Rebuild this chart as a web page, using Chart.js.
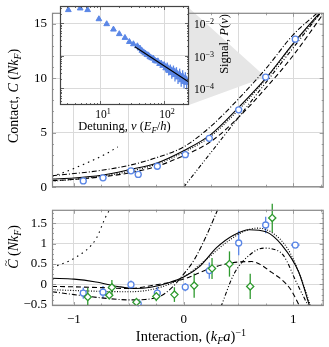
<!DOCTYPE html>
<html>
<head>
<meta charset="utf-8">
<script src="https://cdn.jsdelivr.net/npm/chart.js@4.4.1/dist/chart.umd.min.js"></script>
<style>
  html, body { margin: 0; padding: 0; background: #fff; }
  #wrap { position: relative; width: 329px; height: 347px; overflow: hidden; }
  canvas { position: absolute; left: 0; }
  #top { top: 0; z-index: 1; }
  #bot { top: 197px; z-index: 1; }
  #inset { top: 0; z-index: 2; }
</style>
</head>
<body>
<div id="wrap">
  <canvas id="top" width="329" height="200"></canvas>
  <canvas id="bot" width="329" height="150"></canvas>
  <canvas id="inset" width="329" height="140"></canvas>
</div>
<script>
// ---- ticks ----
const xGridVals = [-1, -0.5, 0, 0.5, 1];
const xLabelVals = [-1, 0, 1];
const topTickVals = [0, 5, 10, 15];
const botTickVals = [-0.5, 0, 0.5, 1, 1.5];
const insetXTicks = [10, 100];
const insetYTicks = [1e-2, 1e-3, 1e-4];

// ---- measured points ----
const blueX     = [-0.915, -0.735, -0.48, -0.414, -0.24, 0.015, 0.234, 0.502, 0.748, 1.018];
const blueC     = [0.58, 0.86, 1.5, 1.17, 1.92, 2.98, 4.48, 7.1, 10.1, 13.58];
const blueXerr  = [0.03, 0.03, 0.03, 0.03, 0.03, 0.03, 0.03, 0.03, 0.03, 0.03];
const blueCt    = [-0.214, -0.19, -0.007, -0.47, -0.214, -0.066, 0.34, 1.015, 1.457, 0.965];
const blueCtErr = [0.14, 0.15, 0.1, 0.07, 0.15, 0.1, 0.2, 0.3, 0.2, 0];

const greenX     = [-0.874, -0.678, -0.654, -0.43, -0.249, -0.084, 0.096, 0.259, 0.418, 0.607, 0.808];
const greenCt    = [-0.309, -0.265, -0.073, -0.435, -0.294, -0.25, -0.03, 0.39, 0.5, -0.05, 1.63];
const greenCtErr = [0.22, 0.1, 0.18, 0.06, 0.12, 0.18, 0.3, 0.26, 0.31, 0.31, 0.35];

// ---- theory curves, top panel ----
const solidTopX   = [-1.2, -1.0, -0.75, -0.5, -0.25, 0, 0.25, 0.5, 0.75, 1.0, 1.24];
const solidTopY   = [0.75, 0.85, 1.1, 1.6, 2.2, 3.35, 4.85, 7.3, 10.0, 13.2, 16.0];
const dashedTopX  = [-1.2, -1.0, -0.75, -0.5, -0.25, 0, 0.25, 0.5, 0.75, 1.0, 1.28];
const dashedTopY  = [0.6, 0.72, 0.95, 1.3, 1.9, 2.9, 4.2, 6.4, 9.1, 12.1, 16.0];
const dottedTopX  = [-1.2, -1.0, -0.75, -0.5, -0.25, 0, 0.25, 0.5, 0.75, 1.0, 1.25];
const dottedTopY  = [0.55, 0.72, 1.0, 1.45, 2.1, 3.2, 4.7, 7.1, 9.9, 13.1, 16.0];
const dashDotTopX = [-1.2, -1.0, -0.75, -0.5, -0.25, 0, 0.25, 0.5, 0.76, 1.0, 1.22];
const dashDotTopY = [1.05, 1.25, 1.55, 2.0, 2.7, 3.7, 5.6, 8.1, 11.0, 14.0, 16.0];
const becTopX     = [0, 0.25, 0.5, 0.75, 1.0, 1.25];
const becTopY     = [0, 3.2, 6.4, 9.6, 12.8, 16.0];
const steepTopX   = [-1.2, -1.1, -1.0, -0.9, -0.8, -0.7, -0.6];
const steepTopY   = [1.0, 1.33, 1.72, 2.15, 2.6, 3.1, 3.7];

// ---- theory curves, bottom panel ----
const solidBotX   = [-1.2, -1.0, -0.8, -0.6, -0.45, -0.3, -0.15, 0, 0.15, 0.3, 0.45, 0.6, 0.75, 0.9, 1.05, 1.15];
const solidBotY   = [0.15, 0.13, 0.06, -0.05, -0.1, -0.07, 0.03, 0.18, 0.45, 0.9, 1.2, 1.34, 1.29, 0.95, 0.3, -0.55];
const dashedBotX  = [-1.2, -1.0, -0.75, -0.5, -0.25, 0, 0.25, 0.5, 0.62, 0.8, 0.97, 1.06];
const dashedBotY  = [-0.05, -0.06, -0.08, -0.1, -0.01, 0.13, 0.4, 0.55, 0.56, 0.3, -0.1, -0.55];
const dottedBotX  = [-1.2, -1.0, -0.75, -0.5, -0.25, 0, 0.2, 0.4, 0.55, 0.67, 0.8, 0.95, 1.05, 1.16];
const dottedBotY  = [-0.13, -0.15, -0.17, -0.18, -0.1, 0.18, 0.6, 1.05, 1.3, 1.38, 1.28, 0.87, 0.3, -0.55];
const dashDotBotX = [-1.2, -1.0, -0.75, -0.5, -0.35, -0.2, -0.1, 0, 0.1, 0.2, 0.31];
const dashDotBotY = [-0.18, -0.25, -0.33, -0.38, -0.37, -0.27, -0.06, 0.25, 0.62, 1.15, 1.83];
const becBotX     = [0.34, 0.46, 0.61, 0.73, 0.81, 0.91, 1.03, 1.14];
const becBotY     = [-0.55, 0.26, 0.74, 0.89, 0.87, 0.71, 0.04, -0.55];
const steepBotX   = [-1.2, -0.98, -0.8, -0.71, -0.67];
const steepBotY   = [0.41, 0.67, 1.11, 1.66, 1.85];

// ---- inset: rf signal vs detuning ----
const insetNu  = [3.2, 4.9, 6.4, 9.6, 12.7, 16.2, 20, 24.5, 28.7, 33.2, 38.3, 42, 45, 48, 51, 54, 57, 60, 64, 68, 72, 76, 80, 85, 90, 95,
                  100, 106, 112, 118, 125, 132, 140, 148, 156, 165, 175, 185, 195, 205, 215, 225];
const insetP   = [0.0257, 0.0289, 0.0257, 0.0135, 0.0095, 0.0065, 0.0047, 0.0036, 0.0027, 0.0023, 0.0020, 0.0017, 1.45e-3, 1.3e-3, 1.2e-3,
                  1.08e-3, 1.05e-3, 9.2e-4, 8.6e-4, 8.3e-4, 7.2e-4, 6.8e-4, 6.9e-4, 5.7e-4, 5.9e-4, 5.0e-4,
                  5.3e-4, 4.2e-4, 4.6e-4, 3.5e-4, 4.0e-4, 3.0e-4, 3.6e-4, 2.6e-4, 3.1e-4, 2.2e-4, 2.7e-4, 1.8e-4, 2.4e-4, 1.6e-4, 2.1e-4, 1.5e-4];
const insetErr = [0, 0, 0, 0, 0, 0, 0, 0, 0, 0, 0, 0, 0, 0, 0, 0, 0, 0, 0, 0, 0, 0, 0, 0, 0, 0,
                  0.2, 0.3, 0.35, 0.4, 0.35, 0.5, 0.4, 0.6, 0.45, 0.6, 0.5, 0.6, 0.5, 0.6, 0.5, 0.6];
const fitNu = [35, 240];
const fitP  = [1.9e-3, 1.6e-4];

const BLUE = '#5a86e6';
const GREEN = '#2f9a2f';
const GRID = '#dadada';
const SERIF = '"Liberation Serif", "DejaVu Serif", serif';

const pts = (xs, ys) => xs.map((x, i) => ({ x: x, y: ys[i] }));

function curve(xs, ys, dash) {
    return {
        data: pts(xs, ys), showLine: true, pointRadius: 0, borderColor: '#000',
        borderWidth: 1.1, borderDash: dash, cubicInterpolationMode: 'monotone', fill: false
    };
}

const DASH = { solid: [], dashed: [5, 3], dotted: [1, 1.6], dashDot: [5, 2, 1, 2], dashDotDot: [4, 2, 1, 2, 1, 2], sparse: [1.5, 4] };

// text with italic / sub / sup runs
function fontFor(s, size) {
    const sz = (s.sub || s.sup) ? size * 0.7 : size;
    return (s.i ? 'italic ' : '') + sz + 'px ' + SERIF;
}
function drawRich(ctx, segs, x, y, size, rot, align) {
    ctx.save();
    ctx.translate(x, y);
    if (rot) ctx.rotate(rot);
    let w = 0;
    segs.forEach(s => { ctx.font = fontFor(s, size); w += ctx.measureText(s.t).width; });
    let cx = align === 'left' ? 0 : -w / 2;
    ctx.textAlign = 'left';
    ctx.textBaseline = 'alphabetic';
    ctx.fillStyle = '#000';
    segs.forEach(s => {
        ctx.font = fontFor(s, size);
        const dy = s.sub ? size * 0.22 : (s.sup ? -size * 0.38 : 0);
        const tw = ctx.measureText(s.t).width;
        ctx.fillText(s.t, cx, dy + size * 0.35);
        if (s.tilde) {
            ctx.font = (size * 0.8) + 'px ' + SERIF;
            ctx.textAlign = 'center';
            ctx.fillText('~', cx + tw / 2 + 1, size * 0.35 - size * 0.62);
            ctx.textAlign = 'left';
        }
        cx += tw;
    });
    ctx.restore();
}

// frame with inward ticks
function framePlugin(xTicks, yTicks, color) {
    return {
        id: 'frame',
        afterDatasetsDraw(chart) {
            const { ctx, chartArea: a, scales } = chart;
            ctx.save();
            ctx.strokeStyle = color;
            ctx.lineWidth = 0.8;
            ctx.beginPath();
            xTicks.forEach(([v, len]) => {
                const p = Math.round(scales.x.getPixelForValue(v)) + 0.5;
                ctx.moveTo(p, a.bottom); ctx.lineTo(p, a.bottom - len);
                ctx.moveTo(p, a.top); ctx.lineTo(p, a.top + len);
            });
            yTicks.forEach(([v, len]) => {
                const p = Math.round(scales.y.getPixelForValue(v)) + 0.5;
                ctx.moveTo(a.left, p); ctx.lineTo(a.left + len, p);
                ctx.moveTo(a.right, p); ctx.lineTo(a.right - len, p);
            });
            ctx.stroke();
            ctx.lineWidth = 1.2;
            ctx.strokeRect(a.left + 0.5, a.top + 0.5, a.right - a.left - 1, a.bottom - a.top - 1);
            ctx.restore();
        }
    };
}

// error bars from the arrays, through the chart scales
function errPlugin(sets) {
    return {
        id: 'errbars',
        beforeDatasetsDraw(chart) {
            const { ctx, scales } = chart;
            ctx.save();
            ctx.lineWidth = 1.3;
            sets.forEach(s => {
                ctx.strokeStyle = s.color;
                s.x.forEach((xv, i) => {
                    const px = scales.x.getPixelForValue(xv);
                    const py = scales.y.getPixelForValue(s.y[i]);
                    ctx.beginPath();
                    if (s.yerr && s.yerr[i]) {
                        const lo = s.log ? s.y[i] / (1 + s.yerr[i]) : s.y[i] - s.yerr[i];
                        const hi = s.log ? s.y[i] * (1 + s.yerr[i]) : s.y[i] + s.yerr[i];
                        ctx.moveTo(px, scales.y.getPixelForValue(lo));
                        ctx.lineTo(px, scales.y.getPixelForValue(hi));
                    }
                    if (s.xerr && s.xerr[i]) {
                        ctx.moveTo(scales.x.getPixelForValue(xv - s.xerr[i]), py);
                        ctx.lineTo(scales.x.getPixelForValue(xv + s.xerr[i]), py);
                    }
                    ctx.stroke();
                });
            });
            ctx.restore();
        }
    };
}

const minorTicks = (from, to, step, majorEvery, lMin, lMaj) => {
    const out = [];
    const n = Math.round((to - from) / step);
    for (let k = 0; k <= n; k++) {
        const v = from + k * step;
        const isMaj = Math.abs(v / majorEvery - Math.round(v / majorEvery)) < 1e-6;
        out.push([v, isMaj ? lMaj : lMin]);
    }
    return out;
};

const xFrameTicks = minorTicks(-1, 1.25, 0.25, 1, 2.5, 4);
const tickFont = { family: SERIF, size: 13 };
const fmt = v => (v < 0 ? '\u2212' : '') + Math.abs(v);

// ---- inset chart (created first, main chart reads its box) ----
const insetChart = new Chart(document.getElementById('inset'), {
    type: 'scatter',
    data: {
        datasets: [
            { data: pts(fitNu, fitP), showLine: true, pointRadius: 0, borderColor: '#000', borderWidth: 1.1 },
            { data: pts(insetNu, insetP), pointStyle: 'triangle', pointRadius: 3.3, backgroundColor: BLUE, borderColor: BLUE, borderWidth: 1 }
        ]
    },
    options: {
        responsive: false, animation: false, events: [],
        layout: { padding: { left: 60, top: 6, right: 140, bottom: 35 } },
        plugins: { legend: { display: false }, tooltip: { enabled: false } },
        scales: {
            x: {
                type: 'logarithmic', min: 2.37, max: 245,
                afterBuildTicks: s => { s.ticks = insetXTicks.map(v => ({ value: v })); },
                ticks: { display: false }, grid: { color: GRID, drawTicks: false }, border: { display: false },
                afterFit: s => { s.height = 0; }
            },
            y: {
                type: 'logarithmic', min: 3.1e-5, max: 0.034,
                afterBuildTicks: s => { s.ticks = insetYTicks.map(v => ({ value: v })); },
                ticks: { display: false }, grid: { color: GRID, drawTicks: false }, border: { display: false },
                afterFit: s => { s.width = 0; }
            }
        }
    },
    plugins: [
        {
            id: 'insetBg',
            beforeDraw(chart) {
                const { ctx, chartArea: a } = chart;
                ctx.save();
                ctx.fillStyle = '#fff';
                ctx.fillRect(a.left, a.top, a.right - a.left, a.bottom - a.top);
                ctx.restore();
            },
            afterDraw(chart) {
                const { ctx, chartArea: a, scales } = chart;
                insetXTicks.forEach(v => {
                    drawRich(ctx, [{ t: '10' }, { t: String(Math.round(Math.log10(v))), sup: true }],
                        scales.x.getPixelForValue(v) + 3, a.bottom + 9, 11.5);
                });
                insetYTicks.forEach(v => {
                    drawRich(ctx, [{ t: '10' }, { t: fmt(Math.round(Math.log10(v))), sup: true }],
                        a.right + 5, scales.y.getPixelForValue(v) + 1, 11.5, 0, 'left');
                });
                drawRich(ctx, [{ t: 'Detuning, ' }, { t: '\u03bd', i: true }, { t: ' (' }, { t: 'E', i: true },
                    { t: 'F', i: true, sub: true }, { t: '/' }, { t: 'h', i: true }, { t: ')' }],
                    (a.left + a.right) / 2, a.bottom + 21, 12.5);
                drawRich(ctx, [{ t: 'Signal, ' }, { t: 'P', i: true }, { t: '(' }, { t: '\u03bd', i: true }, { t: ')' }],
                    a.right + 35, 44, 12.5, -Math.PI / 2);
            }
        },
        errPlugin([{ x: insetNu, y: insetP, yerr: insetErr, color: BLUE, log: true }]),
        (function () {
            const xs = [], ys = [];
            [1, 10, 100].forEach(d => { for (let m = 2; m <= 9; m++) xs.push([m * d, 2]); });
            [1e-5, 1e-4, 1e-3, 1e-2].forEach(d => { for (let m = 2; m <= 9; m++) ys.push([m * d, 2]); });
            insetXTicks.forEach(v => xs.push([v, 4]));
            insetYTicks.forEach(v => ys.push([v, 4]));
            return framePlugin(xs.filter(t => t[0] > 2.37 && t[0] < 245), ys.filter(t => t[0] > 3.1e-5 && t[0] < 0.034), '#444');
        })()
    ]
});

// ---- top panel: contact ----
new Chart(document.getElementById('top'), {
    type: 'scatter',
    data: {
        datasets: [
            { data: pts(blueX, blueC), pointStyle: 'circle', pointRadius: 3, borderColor: BLUE, backgroundColor: '#fff', borderWidth: 1.3 },
            curve(solidTopX, solidTopY, DASH.solid),
            curve(dashedTopX, dashedTopY, DASH.dashed),
            curve(dottedTopX, dottedTopY, DASH.dotted),
            curve(dashDotTopX, dashDotTopY, DASH.dashDot),
            curve(becTopX, becTopY, DASH.dashDotDot),
            curve(steepTopX, steepTopY, DASH.sparse)
        ]
    },
    options: {
        responsive: false, animation: false, events: [],
        layout: { padding: { top: 1, right: 2, left: 0, bottom: 0 } },
        plugins: { legend: { display: false }, tooltip: { enabled: false } },
        scales: {
            x: {
                type: 'linear', min: -1.2, max: 1.277,
                afterBuildTicks: s => { s.ticks = xGridVals.map(v => ({ value: v })); },
                ticks: { display: false }, grid: { color: GRID, drawTicks: false }, border: { display: false },
                afterFit: s => { s.height = 7; }
            },
            y: {
                min: 0, max: 16,
                afterBuildTicks: s => { s.ticks = topTickVals.map(v => ({ value: v })); },
                ticks: { font: tickFont, color: '#000', padding: 5, callback: v => fmt(v) },
                grid: { color: GRID, drawTicks: false }, border: { display: false },
                afterFit: s => { s.width = 52; }
            }
        }
    },
    plugins: [
        {
            id: 'wedge',
            beforeDatasetsDraw(chart) {
                const { ctx, scales } = chart;
                const ia = insetChart.chartArea;
                const ax = scales.x.getPixelForValue(blueX[8]);
                const ay = scales.y.getPixelForValue(blueC[8]);
                ctx.save();
                ctx.fillStyle = '#e6e6e6';
                ctx.beginPath();
                ctx.moveTo(ia.right, ia.top + 2);
                ctx.lineTo(ax, ay);
                ctx.lineTo(ia.right, ia.bottom);
                ctx.closePath();
                ctx.fill();
                ctx.restore();
            },
            afterDraw(chart) {
                drawRich(chart.ctx, [{ t: 'Contact, ' }, { t: 'C', i: true }, { t: ' (' }, { t: 'Nk', i: true },
                    { t: 'F', i: true, sub: true }, { t: ')' }], 13, 96, 14, -Math.PI / 2);
            }
        },
        errPlugin([{ x: blueX, y: blueC, xerr: blueXerr, color: BLUE }]),
        framePlugin(xFrameTicks, minorTicks(0, 16, 1, 5, 2, 4), '#888')
    ]
});

// ---- bottom panel: residual contact ----
new Chart(document.getElementById('bot'), {
    type: 'scatter',
    data: {
        datasets: [
            { data: pts(greenX, greenCt), pointStyle: 'rectRot', pointRadius: 3.6, borderColor: GREEN, backgroundColor: '#fff', borderWidth: 1.3 },
            { data: pts(blueX, blueCt), pointStyle: 'circle', pointRadius: 3, borderColor: BLUE, backgroundColor: '#fff', borderWidth: 1.3 },
            curve(solidBotX, solidBotY, DASH.solid),
            curve(dashedBotX, dashedBotY, DASH.dashed),
            curve(dottedBotX, dottedBotY, DASH.dotted),
            curve(dashDotBotX, dashDotBotY, DASH.dashDot),
            curve(becBotX, becBotY, DASH.dashDotDot),
            curve(steepBotX, steepBotY, DASH.sparse)
        ]
    },
    options: {
        responsive: false, animation: false, events: [],
        layout: { padding: { top: 2, right: 2, left: 0, bottom: 0 } },
        plugins: { legend: { display: false }, tooltip: { enabled: false } },
        scales: {
            x: {
                type: 'linear', min: -1.2, max: 1.277,
                afterBuildTicks: s => { s.ticks = xGridVals.map(v => ({ value: v })); },
                ticks: { font: tickFont, color: '#000', padding: 6, maxRotation: 0, autoSkip: false,
                         callback: v => xLabelVals.includes(v) ? fmt(v) : '' },
                grid: { color: GRID, drawTicks: false }, border: { display: false },
                afterFit: s => { s.height = 41; }
            },
            y: {
                min: -0.53, max: 1.83,
                afterBuildTicks: s => { s.ticks = botTickVals.map(v => ({ value: v })); },
                ticks: { font: tickFont, color: '#000', padding: 5, callback: v => fmt(v) },
                grid: { color: GRID, drawTicks: false }, border: { display: false },
                afterFit: s => { s.width = 52; }
            }
        }
    },
    plugins: [
        {
            id: 'titles',
            afterDraw(chart) {
                const ctx = chart.ctx;
                drawRich(ctx, [{ t: 'C', i: true, tilde: true }, { t: ' (' }, { t: 'Nk', i: true },
                    { t: 'F', i: true, sub: true }, { t: ')' }], 13, 50, 14, -Math.PI / 2);
                drawRich(ctx, [{ t: 'Interaction, (' }, { t: 'k', i: true }, { t: 'F', i: true, sub: true },
                    { t: 'a', i: true }, { t: ')' }, { t: '\u22121', sup: true }], 191, 139, 14.5);
            }
        },
        errPlugin([
            { x: blueX, y: blueCt, yerr: blueCtErr, xerr: [0, 0, 0, 0, 0, 0, 0, 0, 0, 0.04], color: BLUE },
            { x: greenX, y: greenCt, yerr: greenCtErr, color: GREEN }
        ]),
        framePlugin(xFrameTicks, minorTicks(-0.5, 1.75, 0.125, 0.5, 2, 4), '#888')
    ]
});
</script>
</body>
</html>
